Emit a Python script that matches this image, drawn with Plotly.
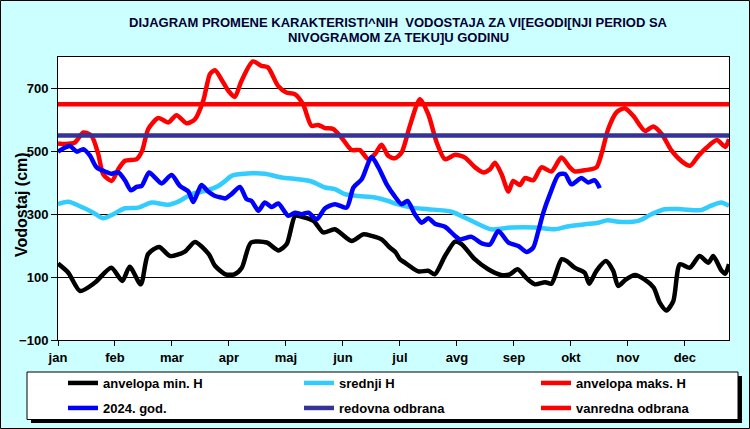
import plotly.graph_objects as go

# ---- data (day of year, value in cm) ----
months = ["jan", "feb", "mar", "apr", "maj", "jun", "jul", "avg", "sep", "okt", "nov", "dec"]
month_days = [0, 31, 62, 93, 124, 155, 186, 217, 248, 279, 310, 341]

min_x = [0, 5.6, 12, 20, 29, 35, 39, 45, 49, 55, 61, 69, 74.5, 82, 85.4, 91, 96, 100, 105, 113.5, 120, 124.4,
         129, 132.6, 139, 144.3, 150.6, 159.7, 166, 170.6, 176, 180.5, 183.5, 186, 188.7, 196, 201.4, 205, 210.5,
         216, 219.5, 226.7, 234, 241, 245.8, 250, 255, 259.5, 265, 268.4, 274, 277, 281, 286.5, 289, 292.9, 298,
         302, 304.7, 309, 313.8, 319, 324, 327.3, 331, 334.7, 338.3, 343.7, 349, 353.8, 356.4, 361, 363, 365]
min_y = [143, 114, 56, 82, 130, 88, 133, 77, 173, 196, 167, 181, 212, 173, 136, 109, 109, 130, 210, 210, 185, 205,
         295, 292, 279, 242, 252, 215, 236, 231, 220, 194, 180, 157, 146, 118, 120, 109, 167,
         213, 205, 157, 125, 107, 109, 125, 96, 77, 84, 79, 157, 150, 130, 114, 79, 120, 151,
         120, 72, 93, 107, 93, 67, 19, -6, 24, 141, 130, 167, 146, 167, 120, 111, 141]

mean_x = [0, 5.6, 12.9, 19.2, 24.6, 30, 36.4, 43.7, 51, 60, 65.4, 72.7, 80, 87.2, 91, 94.4, 105.2, 112.5, 121.6,
          130.7, 137.9, 145.2, 150.6, 156, 163.3, 172.4, 179.6, 184.5, 192.3, 201.4, 214, 225, 235.8, 246.7,
          259.4, 270.3, 277, 286.5, 293.8, 299, 304.7, 315.6, 322.8, 330, 339, 349.8, 355.3, 360.7, 365]
mean_y = [332, 340, 323, 305, 287, 300, 319, 321, 337, 330, 340, 364, 374, 390, 406, 422, 430, 429, 417,
          411, 404, 385, 380, 364, 358, 353, 342, 332, 321, 316, 308, 279, 252, 258,
          258, 252, 261, 268, 273, 281, 276, 279, 300, 316, 316, 313, 327, 337, 327]

max_x = [0, 3.8, 9.2, 13.8, 18.3, 21.9, 24.6, 29.2, 32.8, 36.4, 42.8, 45.8, 49.1, 54.6, 60, 64.5, 70, 74.5, 79,
         82.7, 85.4, 89.9, 93, 96.2, 99.8, 106, 110.6, 114.2, 119.7, 124.2, 128.8, 133.3, 137.9, 141.5, 145.2,
         149.7, 154.2, 159.7, 164.2, 168.8, 172.4, 176, 179.6, 183.3, 186.9, 191.4, 196.9, 201.4, 206, 210.5,
         216, 221.4, 226.9, 231.4, 235, 237.7, 241.3, 245, 247.6, 251.3, 254, 258.5, 263, 268.4, 273.8, 278.4,
         281, 286.5, 292.9, 295.6, 299.3, 303.8, 308.3, 312.9, 319.3, 323.8, 328.4, 333.8, 339.3, 343.8, 348.4,
         352.9, 358.4, 363, 365]
max_y = [525, 523, 528, 560, 549, 491, 427, 406, 443, 470, 475, 502, 571, 606, 592, 615, 589, 602, 661,
         746, 758, 719, 690, 673, 724, 786, 772, 767, 708, 687, 682, 650, 581, 584, 574,
         571, 544, 504, 504, 475, 491, 521, 486, 478, 496, 581, 666, 618, 528, 475,
         489, 480, 449, 433, 443, 464, 427, 372, 406, 393, 415, 408, 449, 436, 480, 449,
         436, 440, 449, 491, 571, 624, 637, 613, 565, 579, 555, 502, 468, 454, 486,
         512, 536, 514, 539]

cur_x = [0, 2.9, 6.5, 10.2, 13.8, 17.4, 21, 25.5, 29.2, 32.8, 36.4, 39.7, 42.8, 45.5, 49.5, 52.7, 56.4, 61.8,
         66.3, 70.9, 73.6, 76.3, 78.1, 81.7, 85.4, 89, 91, 94.4, 99, 102.6, 105.3, 109, 112.5, 116.2, 119.8,
         125.3, 128.9, 132.6, 136.2, 140.7, 145.3, 150.7, 157, 160.7, 165.2, 170.6, 174.3, 178.8, 183.3, 186.9,
         190.1, 194.1, 197.8, 201.4, 205, 210.5, 216, 218.7, 225, 230.5, 235, 239.5, 245, 250.4, 255, 258.5,
         261.3, 264, 267.6, 272.2, 275.8, 279.3, 284.7, 288.4, 292, 294.7]
cur_y = [499, 509, 517, 499, 507, 486, 449, 436, 429, 433, 408, 376, 387, 390, 433, 417, 398, 425,
         390, 372, 339, 374, 393, 372, 358, 353, 350, 364, 387, 348, 342, 311, 337, 323, 334,
         295, 305, 300, 305, 284, 319, 332, 321, 385, 411, 482, 449, 395, 356, 332,
         342, 300, 273, 287, 270, 260, 231, 220, 228, 207, 204, 247, 210, 199, 180, 194,
         247, 305, 364, 425, 428, 395, 415, 401, 408, 383]

line_x = [0, 365]
redovna = [550, 550]
vanredna = [650, 650]

series_names = ["anvelopa min. H", "srednji H", "anvelopa maks. H", "2024. god.", "redovna odbrana", "vanredna odbrana"]
title_lines = ["DIJAGRAM PROMENE KARAKTERISTI^NIH  VODOSTAJA ZA VI[EGODI[NJI PERIOD SA",
               "NIVOGRAMOM ZA TEKU]U GODINU"]
y_ticks = [-100, 100, 300, 500, 700]

# ---- layout constants ----
W, H = 750, 429
L, R, T, B = 58, 21, 57, 89
PW, PH = W - L - R, H - T - B
FONT = "Liberation Sans"

def px(x):
    return (x - L) / PW

def py(y):
    return (H - B - y) / PH

# legend slots: (legend id, x of entry start in px, y of row centre in px)
legend_slots = [("legend", 63, 383), ("legend2", 299, 383), ("legend3", 536, 383),
                ("legend4", 63, 408), ("legend5", 299, 408), ("legend6", 536, 408)]

fig = go.Figure()
colors = ["#000000", "#33CCFF", "#FF0000", "#0000FF", "#333399", "#FF0000"]
xs_list = [min_x, mean_x, max_x, cur_x, line_x, line_x]
ys_list = [min_y, mean_y, max_y, cur_y, redovna, vanredna]
for xs, ys, col, name, slot in zip(xs_list, ys_list, colors, series_names, legend_slots):
    fig.add_trace(go.Scatter(x=xs, y=ys, mode="lines", name=name, legend=slot[0],
                             line=dict(color=col, width=4.5, shape="spline", smoothing=0.7)))

shapes = [
    dict(type="rect", xref="paper", yref="paper", x0=px(31), x1=px(742), y0=py(423), y1=py(376),
         fillcolor="#000000", line=dict(width=0), layer="above"),
    dict(type="rect", xref="paper", yref="paper", x0=px(27), x1=px(738), y0=py(419.5), y1=py(372),
         fillcolor="#FFFFFF", line=dict(color="#000000", width=1), layer="above"),
    dict(type="rect", xref="paper", yref="paper", x0=px(0.5), x1=px(749.5), y0=py(428.5), y1=py(0.5),
         line=dict(color="#000000", width=1), layer="above"),
]

title_font = dict(family=FONT, size=13, color="#000033", weight="bold")
annotations = [
    dict(text=title_lines[0], x=px(398), y=py(22), xref="paper", yref="paper", showarrow=False,
         xanchor="center", yanchor="middle", font=title_font),
    dict(text=title_lines[1], x=px(398), y=py(38), xref="paper", yref="paper", showarrow=False,
         xanchor="center", yanchor="middle", font=title_font),
    dict(text="Vodostaj (cm)", x=px(22), y=py(205), xref="paper", yref="paper", showarrow=False,
         textangle=-90, xanchor="center", yanchor="middle",
         font=dict(family=FONT, size=16, color="#000000", weight="bold")),
]

legend_layout = {}
for lid, lx, ly in legend_slots:
    legend_layout[lid] = dict(orientation="v", bgcolor="rgba(0,0,0,0)", borderwidth=0,
                              font=dict(family=FONT, size=13, color="#000000", weight="bold"),
                              xref="container", yref="container", x=lx / W, y=1 - ly / H,
                              xanchor="left", yanchor="middle", itemclick=False, itemdoubleclick=False)

fig.update_layout(
    width=W, height=H,
    margin=dict(l=L, r=R, t=T, b=B, autoexpand=False),
    paper_bgcolor="#CCFFFF",
    plot_bgcolor="#FFFFFF",
    showlegend=True,
    shapes=shapes,
    annotations=annotations,
    xaxis=dict(range=[0, 365], tickvals=month_days, ticktext=months, ticks="outside", ticklen=5,
               tickcolor="#000000", showgrid=False, zeroline=False, showline=True, linecolor="#000000",
               linewidth=1, mirror=True,
               tickfont=dict(family=FONT, size=13, color="#000000", weight="bold")),
    yaxis=dict(range=[-100, 800], tickvals=y_ticks, ticks="outside", ticklen=6, tickcolor="#000000",
               showgrid=True, gridcolor="#000000", gridwidth=1, zeroline=False, showline=True,
               linecolor="#000000", linewidth=1, mirror=True,
               tickfont=dict(family=FONT, size=13, color="#000000", weight="bold")),
    **legend_layout,
)

fig.write_html("out.html")
